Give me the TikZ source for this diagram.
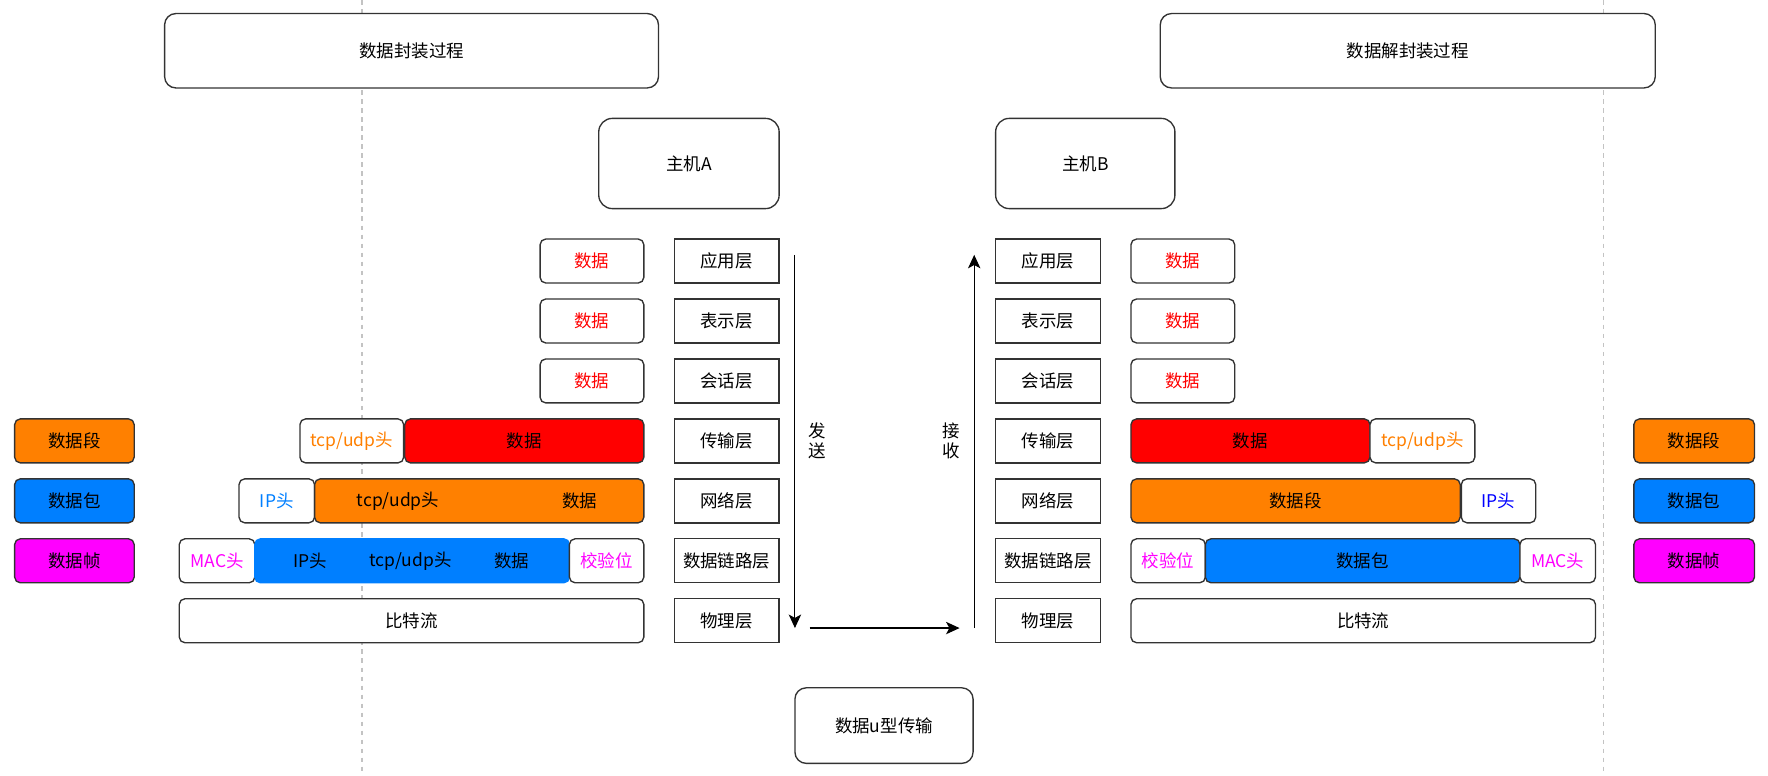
\documentclass[tikz,border=0pt]{standalone}
\usepackage{fontspec}
\setmainfont{Noto Sans CJK SC}
\usetikzlibrary{arrows.meta,positioning}
\definecolor{segorange}{RGB}{255,128,0}
\definecolor{pktblue}{RGB}{0,127,255}
\definecolor{frmmagenta}{RGB}{255,0,255}
\definecolor{hdrblue}{RGB}{0,0,255}
\definecolor{edgegrey}{RGB}{51,51,51}
\definecolor{guidegrey}{RGB}{195,195,195}

\begin{document}
\begin{tikzpicture}[x=1pt,y=-1pt,font=\fontsize{15.5}{18}\selectfont,
    layer/.style={draw=edgegrey,line width=1.2pt,fill=white,minimum width=93pt,minimum height=39pt,inner sep=0pt},
    seg/.style={draw=edgegrey,line width=1.2pt,fill=white,rounded corners=5pt,minimum height=39pt,inner sep=0pt},
    bigbox/.style={draw=edgegrey,line width=1.2pt,fill=white,rounded corners=10pt,inner sep=0pt},
    flow/.style={-{Stealth[length=12pt,width=11pt,inset=3pt]},line width=1pt,black}]
        \useasboundingbox (0,0) rectangle (1568,688);
        % Guide lines
        \draw[guidegrey,line width=1pt,dash pattern=on 4pt off 4pt] (321,0)--(321,688);
        \draw[guidegrey,line width=1pt,dash pattern=on 4pt off 4pt] (1422,0)--(1422,688);
        % Titles and hosts
        \node[bigbox,minimum width=438pt,minimum height=66pt] (encap) at (365,45) {数据封装过程};
        \node[bigbox,minimum width=439pt,minimum height=66pt] (decap) at (1248.5,45) {数据解封装过程};
        \node[bigbox,rounded corners=12pt,minimum width=160pt,minimum height=80pt] (hostA) at (611,145) {主机A};
        \node[bigbox,rounded corners=12pt,minimum width=159pt,minimum height=80pt] (hostB) at (962.5,145) {主机B};
        % OSI layers
        \foreach \lay [count=\i] in {应用层,表示层,会话层,传输层,网络层,数据链路层,物理层}{
          \node[layer] (layA\i) at (644.5,{178.33+53.17*\i}) {\lay};
          \node[layer] (layB\i) at (929.5,{178.33+53.17*\i}) {\lay};
        }
        % Upper layers: plain data
        \foreach \i in {1,2,3}{
          \node[seg,minimum width=92pt,text=red] (datA\i) at (525,0 |- layA\i) {数据};
          \node[seg,minimum width=92pt,text=red] (datB\i) at (1049,0 |- layB\i) {数据};
        }
        % Sender side
        \node[seg,minimum width=92pt,text=segorange] (tcpA) at (312,0 |- layA4) {tcp/udp头};
        \node[seg,minimum width=212pt,fill=red] (datA4) at (465,0 |- layA4) {数据};
        \node[seg,minimum width=67pt,text=pktblue] (ipA) at (245.5,0 |- layA5) {IP头};
        \node[seg,minimum width=292pt,fill=segorange] (segA) at (425,0 |- layA5) {};
        \node (segAtcp) at (353,0 |- layA5) {tcp/udp头};
        \node (segAdat) at (514,0 |- layA5) {数据};
        \node[seg,minimum width=67pt,text=frmmagenta] (macA) at (192.5,0 |- layA6) {MAC头};
        \node[seg,minimum width=279pt,fill=pktblue,draw=pktblue] (pktA) at (365.5,0 |- layA6) {};
        \node (pktAip) at (275,0 |- layA6) {IP头};
        \node (pktAtcp) at (364,0 |- layA6) {tcp/udp头};
        \node (pktAdat) at (454,0 |- layA6) {数据};
        \node[seg,minimum width=66pt,text=frmmagenta] (chkA) at (538,0 |- layA6) {校验位};
        \node[seg,minimum width=412pt] (bitA) at (365,0 |- layA7) {比特流};
        % Receiver side
        \node[seg,minimum width=212pt,fill=red] (datB4) at (1109,0 |- layB4) {数据};
        \node[seg,minimum width=93pt,text=segorange] (tcpB) at (1261.5,0 |- layB4) {tcp/udp头};
        \node[seg,minimum width=292pt,fill=segorange] (segB) at (1149,0 |- layB5) {数据段};
        \node[seg,minimum width=66pt,text=hdrblue] (ipB) at (1329,0 |- layB5) {IP头};
        \node[seg,minimum width=66pt,text=frmmagenta] (chkB) at (1036,0 |- layB6) {校验位};
        \node[seg,minimum width=279pt,fill=pktblue] (pktB) at (1208.5,0 |- layB6) {数据包};
        \node[seg,minimum width=67pt,text=frmmagenta] (macB) at (1381.5,0 |- layB6) {MAC头};
        \node[seg,minimum width=412pt] (bitB) at (1209,0 |- layB7) {比特流};
        % Legends
        \foreach \row/\col/\txt/\n in {4/segorange/数据段/seg,5/pktblue/数据包/pkt,6/frmmagenta/数据帧/frm}{
          \node[seg,minimum width=106pt,fill=\col] (keyA\n) at (66,0 |- layA\row) {\txt};
          \node[seg,minimum width=107pt,fill=\col] (keyB\n) at (1502.5,0 |- layB\row) {\txt};
        }
        % Send / receive path
        \coordinate (sendtop) at (705,226);
        \coordinate (sendbot) at (705,557);
        \coordinate (linkA) at (718,557);
        \coordinate (linkB) at (851,557);
        \coordinate (recvbot) at (864,557);
        \coordinate (recvtop) at (864,226);
        \draw[flow] (sendtop)--(sendbot);
        \draw[flow] (linkA)--(linkB);
        \draw[flow] (recvbot)--(recvtop);
        \node[align=center] (sendlbl) at (725,391) {发\\送};
        \node[align=center] (recvlbl) at (844,391) {接\\收};
        \node[bigbox,minimum width=158pt,minimum height=67pt] (utrans) at (784,643.5) {数据u型传输};
      \end{tikzpicture}
\end{document}
